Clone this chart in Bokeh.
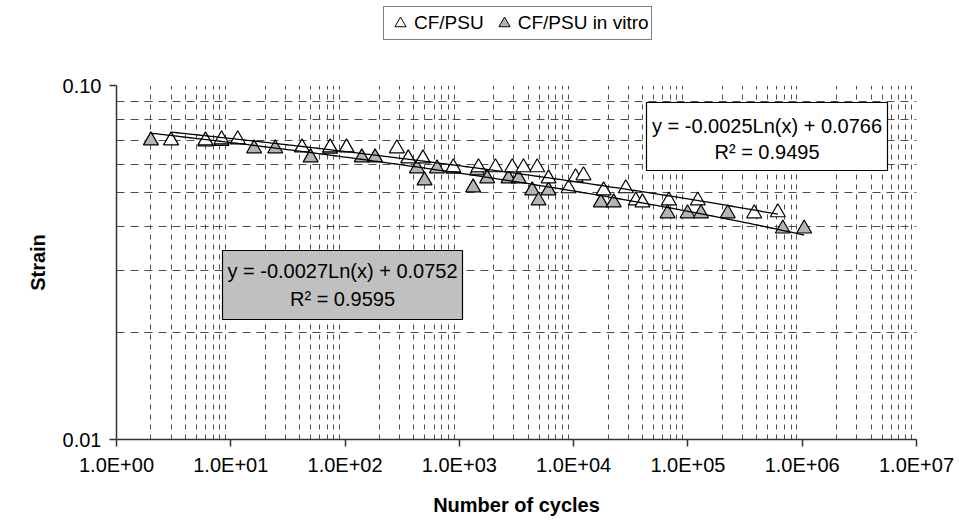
import numpy as np
from bokeh.plotting import figure
from bokeh.layouts import column
from bokeh.models import (FixedTicker, Legend, LegendItem, BoxAnnotation, Label,
                          ColumnDataSource)
from bokeh.embed import file_html
from bokeh.resources import INLINE

# ---------------- data ----------------
cfpsu_cycles = [3, 6, 8.3, 11.5, 42, 74, 103, 284, 357, 480, 885, 1470, 2070, 2900,
                3640, 4800, 6030, 9030, 10400, 12200, 18300, 28600, 35000, 40000,
                68100, 122000, 380000, 612000]
cfpsu_strain = [0.0699, 0.0699, 0.0704, 0.0704, 0.0668, 0.0668, 0.0668, 0.0664, 0.0622,
                0.0622, 0.0587, 0.0587, 0.0587, 0.0587, 0.0587, 0.0587, 0.0546, 0.0512,
                0.0550, 0.0557, 0.0505, 0.0512, 0.0473, 0.0467, 0.0473, 0.0473, 0.0435,
                0.0438]

vitro_cycles = [2, 6, 8.3, 16, 24.5, 50, 74, 140, 183, 426, 496, 637, 885, 1320, 1430,
                1750, 2690, 3300, 4340, 4930, 6030, 17300, 22400, 66400, 99300, 130000,
                223000, 677000, 1040000]
vitro_strain = [0.0699, 0.0694, 0.0697, 0.0664, 0.0664, 0.0626, 0.0662, 0.0626, 0.0626,
                0.0583, 0.0539, 0.0583, 0.0582, 0.0515, 0.0575, 0.0546, 0.0546, 0.0546,
                0.0505, 0.0473, 0.0505, 0.0467, 0.0467, 0.0435, 0.0435, 0.0435, 0.0435,
                0.0394, 0.0394]

series_names = ["CF/PSU", "CF/PSU in vitro"]

# trendlines: y = a*Ln(x) + b, with R^2
fit_cfpsu_a, fit_cfpsu_b, fit_cfpsu_r2 = -0.0025, 0.0766, 0.9495
fit_vitro_a, fit_vitro_b, fit_vitro_r2 = -0.0027, 0.0752, 0.9595

x_major = [1e0, 1e1, 1e2, 1e3, 1e4, 1e5, 1e6, 1e7]
x_labels = ["1.0E+00", "1.0E+01", "1.0E+02", "1.0E+03", "1.0E+04", "1.0E+05",
            "1.0E+06", "1.0E+07"]
y_major = [0.01, 0.1]
y_labels = ["0.01", "0.10"]

x_minor = [k * 10.0 ** d for d in range(7) for k in range(2, 10)]
y_minor = [0.02, 0.03, 0.04, 0.05, 0.06, 0.07, 0.08, 0.09]

# ---------------- layout constants ----------------
W, H = 959, 525
LEG_H = 70                       # height of the legend strip on top
FL, FR, FT, FB = 116, 916, 85, 439   # frame edges in page pixels
FONT = "Liberation Sans"
GRAY = "#b4b4b4"


def cx(px):
    return 10 ** (7.0 * (px - FL) / (FR - FL))


def cy(py):
    return 10 ** (-1.0 - (py - FT) / (FB - FT))


# ---------------- legend strip ----------------
lf = figure(width=W, height=LEG_H, x_range=(0, 1), y_range=(0, 1),
            output_backend="svg", toolbar_location=None,
            x_axis_location=None, y_axis_location=None,
            min_border=0, min_border_left=0, min_border_right=0,
            min_border_top=0, min_border_bottom=0)
lf.outline_line_color = None
lf.grid.visible = False
lf.background_fill_color = "white"
lf.border_fill_color = "white"
# legend-only renderers: one point each, placed outside the visible range
lg1 = lf.scatter([-5], [-5], marker="triangle", size=11, fill_color="white",
                 line_color="black", line_width=1)
lg2 = lf.scatter([-5], [-5], marker="triangle", size=11, fill_color=GRAY,
                 line_color="black", line_width=1)
legend = Legend(items=[LegendItem(label=series_names[0], renderers=[lg1]),
                       LegendItem(label=series_names[1], renderers=[lg2])],
                orientation="horizontal", location=(383 - FL, LEG_H - 40),
                label_text_font=FONT, label_text_font_size="19px",
                label_text_color="black", glyph_width=28, glyph_height=28,
                label_standoff=-4, spacing=6, padding=2, margin=0,
                border_line_color="black", border_line_width=1,
                background_fill_color="white", background_fill_alpha=1.0)
lf.add_layout(legend, "center")

# ---------------- main chart ----------------
p = figure(width=W, height=H - LEG_H, x_axis_type="log", y_axis_type="log",
           x_range=(1, 1e7), y_range=(0.01, 0.1),
           output_backend="svg", toolbar_location=None,
           min_border_left=FL, min_border_right=W - FR,
           min_border_top=FT - LEG_H, min_border_bottom=H - FB)
p.outline_line_color = None
p.background_fill_color = "white"
p.border_fill_color = "white"

# axes
p.xaxis.ticker = FixedTicker(ticks=x_major, minor_ticks=x_minor)
p.yaxis.ticker = FixedTicker(ticks=y_major, minor_ticks=y_minor)
p.xaxis.major_label_overrides = dict(zip(x_major, x_labels))
p.yaxis.major_label_overrides = dict(zip(y_major, y_labels))
for ax in (p.xaxis, p.yaxis):
    ax.axis_line_color = "#333333"
    ax.axis_line_width = 1.5
    ax.major_tick_line_color = "#333333"
    ax.major_tick_line_width = 1.5
    ax.major_tick_out = 7
    ax.major_tick_in = 0
    ax.minor_tick_line_color = None
    ax.major_label_text_font = FONT
    ax.major_label_text_font_size = "20px"
    ax.major_label_text_color = "black"
    ax.axis_label_text_font = FONT
    ax.axis_label_text_font_size = "20px"
    ax.axis_label_text_font_style = "bold"
    ax.axis_label_text_color = "black"
p.xaxis.major_label_standoff = 7
p.yaxis.major_label_standoff = 8
p.xaxis.axis_label = "Number of cycles"
p.yaxis.axis_label = "Strain"
p.xaxis.axis_label_standoff = 15
p.yaxis.axis_label_standoff = 11

# grids
p.xgrid.ticker = FixedTicker(ticks=x_major, minor_ticks=x_minor)
p.xgrid.grid_line_color = None
p.xgrid.minor_grid_line_color = "#4d4d4d"
p.xgrid.minor_grid_line_dash = "5 5"
p.xgrid.minor_grid_line_width = 1
p.ygrid.ticker = FixedTicker(ticks=[0.1], minor_ticks=y_minor)
p.ygrid.grid_line_color = "#9a9a9a"
p.ygrid.grid_line_width = 2
p.ygrid.minor_grid_line_color = "#4d4d4d"
p.ygrid.minor_grid_line_dash = "8 6"
p.ygrid.minor_grid_line_width = 1

# series
src_vitro = ColumnDataSource(dict(x=vitro_cycles, y=vitro_strain))
src_cfpsu = ColumnDataSource(dict(x=cfpsu_cycles, y=cfpsu_strain))
p.scatter("x", "y", source=src_vitro, marker="triangle", size=15,
          fill_color=GRAY, line_color="black", line_width=1.2)
p.scatter("x", "y", source=src_cfpsu, marker="triangle", size=15,
          fill_color="white", line_color="black", line_width=1.2)

# trendlines over the range of each series
xs1 = np.geomspace(min(cfpsu_cycles), max(cfpsu_cycles), 200)
p.line(xs1, fit_cfpsu_a * np.log(xs1) + fit_cfpsu_b, line_color="black", line_width=1.3)
xs2 = np.geomspace(min(vitro_cycles), max(vitro_cycles), 200)
p.line(xs2, fit_vitro_a * np.log(xs2) + fit_vitro_b, line_color="black", line_width=1.3)


# equation boxes
def eq_box(left, right, top, bottom, l1y, l2y, fill, a, b, r2):
    p.add_layout(BoxAnnotation(left=cx(left), right=cx(right), top=cy(top),
                               bottom=cy(bottom), fill_color=fill, fill_alpha=1.0,
                               line_color="black", line_width=1.2, line_alpha=1.0))
    mid = cx((left + right) / 2)
    t1 = "y = %.4fLn(x) + %.4f" % (a, b)
    t2 = "R\u00b2 = %.4f" % r2
    for t, yy in ((t1, l1y), (t2, l2y)):
        p.add_layout(Label(x=mid, y=cy(yy), text=t, text_align="center",
                           text_baseline="middle", text_font=FONT,
                           text_font_size="20px", text_color="black"))


eq_box(646, 887, 102, 170, 125, 151, "white", fit_cfpsu_a, fit_cfpsu_b, fit_cfpsu_r2)
eq_box(222, 462, 250, 319, 270, 298, "#c0c0c0", fit_vitro_a, fit_vitro_b, fit_vitro_r2)

layout = column(lf, p, spacing=0)
open("out.html", "w").write(file_html(layout, INLINE))
